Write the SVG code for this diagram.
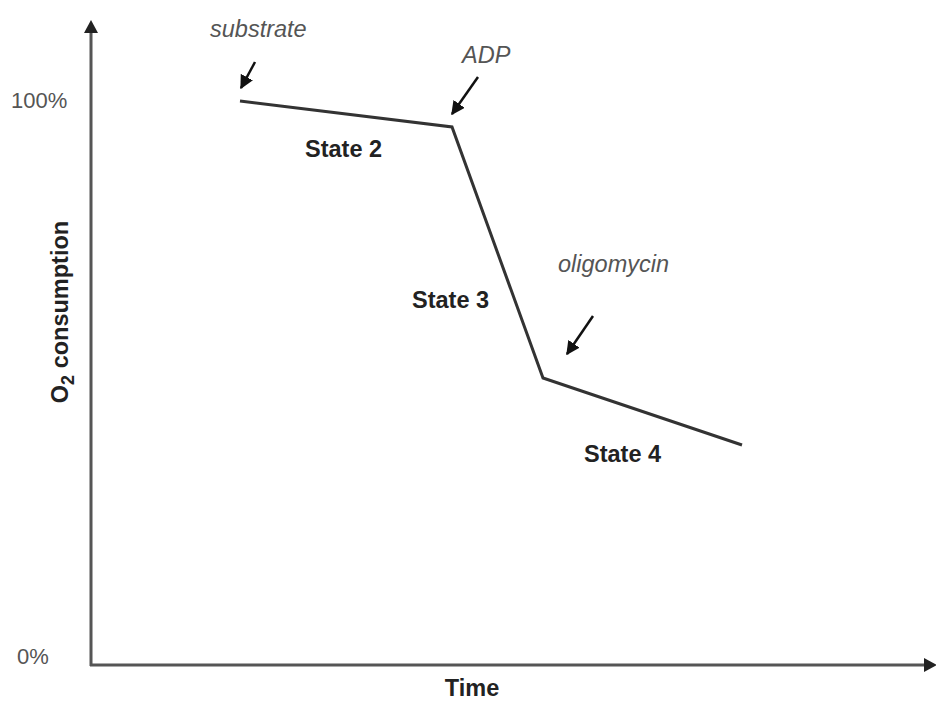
<svg xmlns="http://www.w3.org/2000/svg" width="936" height="702" viewBox="0 0 936 702">
<style>
.axis{stroke:#555;stroke-width:3;fill:none}
.trace{stroke:#333;stroke-width:3;fill:none;stroke-linejoin:miter}
.ptr{stroke:#111;stroke-width:2.5;fill:none}
.lbl{font-family:"Liberation Sans",Arial,sans-serif;font-size:22px;fill:#555}
.add{font-family:"Liberation Sans",Arial,sans-serif;font-size:23.5px;font-style:italic;fill:#555}
.state{font-family:"Liberation Sans",Arial,sans-serif;font-size:23.5px;font-weight:bold;fill:#222}
</style>
<defs>
<marker id="ah" viewBox="0 0 10 10" refX="9" refY="5" markerWidth="5.5" markerHeight="5.5" orient="auto" markerUnits="strokeWidth">
<path d="M0,0 L10,5 L0,10 z" fill="#111"/>
</marker>
</defs>
<rect width="936" height="702" fill="#fff"/>
<g id="axes">
<line class="axis" x1="91" y1="666" x2="91" y2="32"/>
<polygon points="91,20 84,33 98,33" fill="#222"/>
<line class="axis" x1="90" y1="665" x2="926" y2="665"/>
<polygon points="937,665 924,658 924,672" fill="#222"/>
</g>
<g id="ticks">
<text class="lbl" x="11" y="108">100%</text>
<text class="lbl" x="17" y="664">0%</text>
</g>
<g id="axis-titles">
<text class="state" x="472" y="696" text-anchor="middle" font-size="25">Time</text>
<text class="state" transform="translate(68,312) rotate(-90)" text-anchor="middle" font-size="27">O<tspan font-size="18" dy="6">2</tspan><tspan dy="-6"> consumption</tspan></text>
</g>
<g id="connectors">
<polyline id="trace" class="trace" points="240,101 452,127 543,378 742,445"/>
<line class="ptr" x1="255" y1="62" x2="241" y2="88" marker-end="url(#ah)"/>
<line class="ptr" x1="478" y1="77" x2="452" y2="114" marker-end="url(#ah)"/>
<line class="ptr" x1="593" y1="316" x2="567" y2="354" marker-end="url(#ah)"/>
</g>
<g id="substrate"><text class="add" x="210" y="37">substrate</text></g>
<g id="adp"><text class="add" x="462" y="63">ADP</text></g>
<g id="oligomycin"><text class="add" x="558" y="272">oligomycin</text></g>
<g id="state2"><text class="state" x="305" y="157">State 2</text></g>
<g id="state3"><text class="state" x="412" y="308">State 3</text></g>
<g id="state4"><text class="state" x="584" y="462">State 4</text></g>
</svg>
